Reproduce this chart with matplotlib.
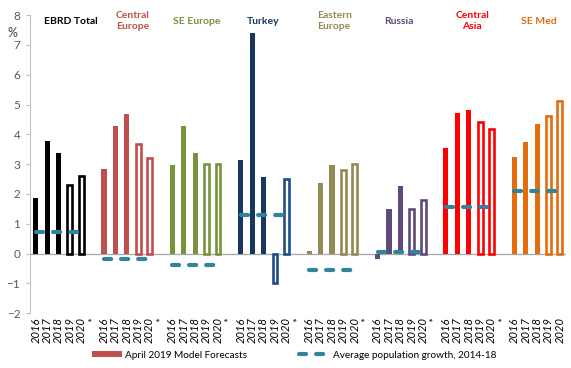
import matplotlib
matplotlib.use('Agg')
import matplotlib.pyplot as plt
from matplotlib.patches import Patch
from matplotlib.lines import Line2D

plt.rcParams['font.family'] = ['Lato', 'DejaVu Sans']

# 数据
regions = ['EBRD Total', 'Central\nEurope', 'SE Europe', 'Turkey',
           'Eastern\nEurope', 'Russia', 'Central\nAsia', 'SE Med']
years = ['2016', '2017', '2018', '2019', '2020']

ebrd_total = [1.87, 3.77, 3.38, 2.31, 2.61]
central_europe = [2.83, 4.27, 4.68, 3.69, 3.20]
se_europe = [2.98, 4.27, 3.38, 3.00, 3.00]
turkey = [3.14, 7.40, 2.58, -1.00, 2.50]
eastern_europe = [0.09, 2.37, 2.97, 2.80, 3.00]
russia = [-0.17, 1.48, 2.28, 1.51, 1.81]
central_asia = [3.55, 4.72, 4.80, 4.40, 4.18]
se_med = [3.24, 3.75, 4.35, 4.60, 5.11]
growth = [ebrd_total, central_europe, se_europe, turkey,
          eastern_europe, russia, central_asia, se_med]

pop_growth = [0.72, -0.17, -0.40, 1.30, -0.56, 0.04, 1.55, 2.11]

colors = ['#000000', '#C0504D', '#77933C', '#17375E',
          '#948A54', '#604A7B', '#FF0000', '#E46C0A']
edge_colors = ['#000000', '#C0504D', '#77933C', '#1F4E8C',
               '#948A54', '#604A7B', '#FF0000', '#E46C0A']
label_offset = [3.1, 2.5, 2.1, 2.0, 2.2, 1.9, 2.3, 2.2]
teal = '#31849B'

fig = plt.figure(figsize=(5.71, 3.68), dpi=100)
ax = fig.add_axes([0.0525, 0.149, 0.938, 0.81])

tick_pos, tick_lab = [], []
pos = 0
for i, (name, vals) in enumerate(zip(regions, growth)):
    xs = list(range(pos, pos + len(years)))
    for j, (x, v) in enumerate(zip(xs, vals)):
        if j < 3:
            ax.bar(x, v, width=0.45, color=colors[i], linewidth=0, zorder=2)
        else:
            ax.bar(x, v, width=0.42, facecolor='white', edgecolor=edge_colors[i],
                   linewidth=1.9, zorder=2)
    # 人口增长虚线
    ax.plot([xs[0], xs[-1]], [pop_growth[i]] * 2, color=teal, linewidth=3.0,
            dash_capstyle='round', dashes=(1.7, 2.4), zorder=3)
    ax.text(pos + label_offset[i], 7.8, name, color=colors[i], fontsize=7.5,
            fontweight='bold', ha='center', va='center', linespacing=1.25)
    tick_pos += xs
    tick_lab += years
    if i < len(regions) - 1:
        tick_pos.append(pos + len(years))
        tick_lab.append('*')
    pos += len(years) + 1

ax.axhline(0, color='#A6A6A6', linewidth=0.9, zorder=1)
ax.set_xlim(-0.5, pos - 1.5)
ax.set_ylim(-2, 8)
ax.set_yticks(range(-2, 9))
ax.tick_params(axis='y', labelsize=8.5, colors='#595959', length=3, width=0.8,
               color='#BFBFBF', pad=4)
ax.set_xticks(tick_pos)
ax.set_xticklabels(tick_lab, rotation=90, fontsize=8, fontstyle='italic')
ax.tick_params(axis='x', length=0, pad=3)

for s in ['top', 'right', 'bottom']:
    ax.spines[s].set_visible(False)
ax.spines['left'].set_color('#BFBFBF')

fig.text(0.014, 0.91, '%', fontsize=9, color='#404040', va='center')

handles = [Patch(facecolor='#C0504D', edgecolor='none'),
           Line2D([0], [0], color=teal, linewidth=3.0, dash_capstyle='round',
                  dashes=(1.7, 2.4))]
fig.legend(handles, ['April 2019 Model Forecasts', 'Average population growth, 2014-18'],
           loc='center', bbox_to_anchor=(0.515, 0.035), ncol=2, frameon=False,
           fontsize=7.2, handlelength=3.0, handleheight=0.6, handletextpad=0.35,
           columnspacing=5.2)

fig.savefig('out.png', dpi=100)
